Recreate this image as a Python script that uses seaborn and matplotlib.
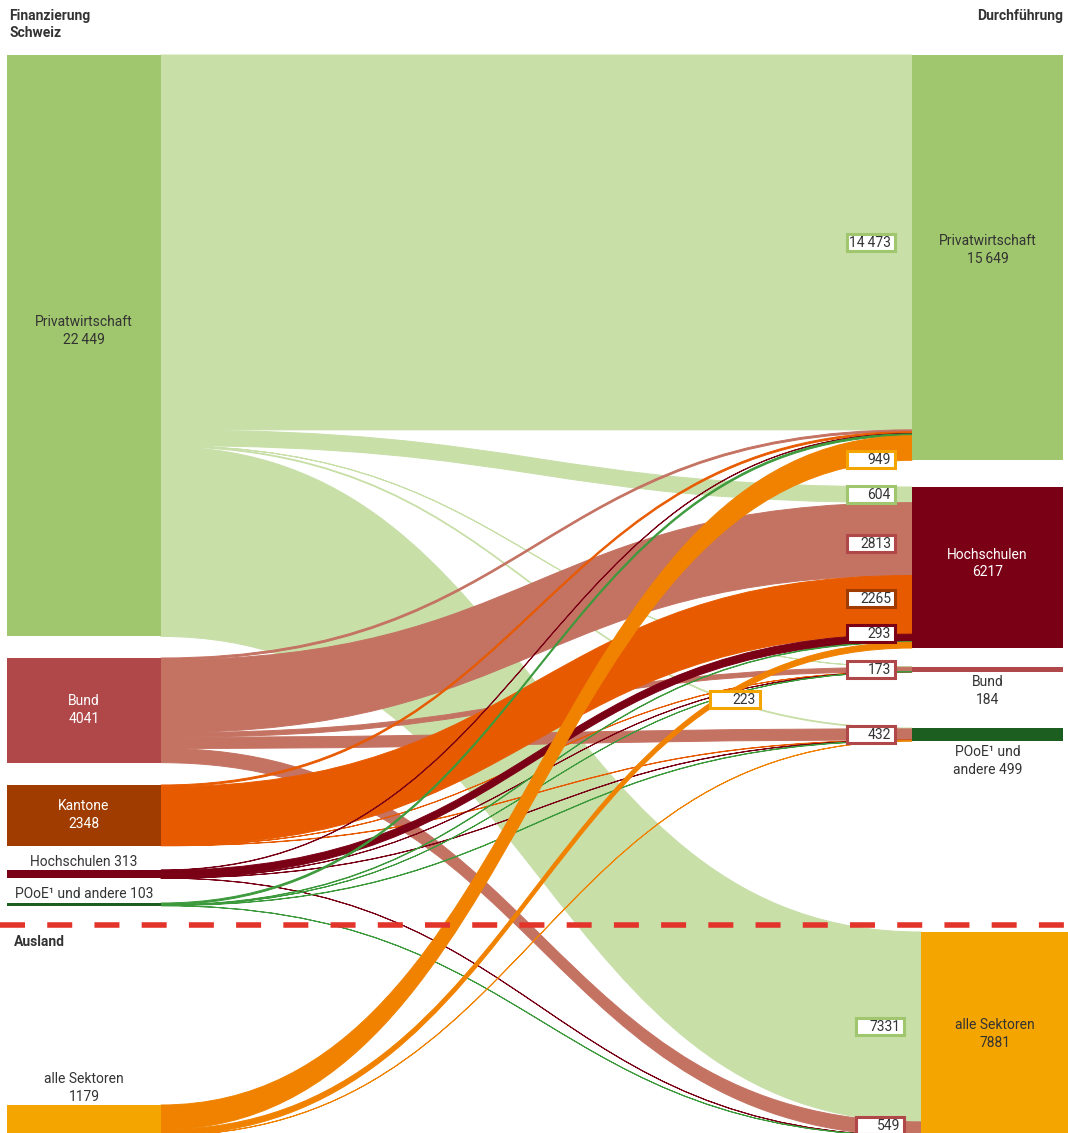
import matplotlib
matplotlib.use("Agg")
import matplotlib.pyplot as plt
from matplotlib.path import Path
from matplotlib.patches import PathPatch, Rectangle
import seaborn as sns

# Finanzierung (links) -> Durchführung (rechts), Mio. CHF
sources = ["Privatwirtschaft", "Bund", "Kantone", "Hochschulen", "POoE¹ und andere", "alle Sektoren"]
source_totals = [22449, 4041, 2348, 313, 103, 1179]
targets = ["Privatwirtschaft", "Hochschulen", "Bund", "POoE¹ und andere", "alle Sektoren"]
target_totals = [15649, 6217, 184, 499, 7881]

# Flüsse je Quelle, Reihenfolge wie targets
flows_privatwirtschaft = [14473, 604, 8, 33, 7331]
flows_bund = [74, 2813, 173, 432, 549]
flows_kantone = [70, 2265, 1, 12, 0]
flows_hochschulen = [13, 293, 1, 5, 1]
flows_pooe = [70, 19, 1, 12, 1]
flows_ausland = [949, 223, 0, 5, 2]
flows = [flows_privatwirtschaft, flows_bund, flows_kantone, flows_hochschulen, flows_pooe, flows_ausland]

# beschriftete Flüsse (Quelle, Ziel)
labelled = [(0, 0), (0, 1), (0, 4), (1, 1), (1, 2), (1, 3), (1, 4), (2, 1), (3, 1), (5, 0), (5, 1)]

# Layout (Pixel)
W, H = 1068, 1133
S = 0.0259  # px pro Mio. CHF
left_tops = [55, 658, 785, 870, 903, 1105]
right_tops = [55, 487, 667, 728, 932]
lx0, lx1 = 7, 161
rx0 = [912, 912, 912, 912, 921]
rx1 = [1063, 1063, 1063, 1063, 1068]
label_dy = {(5, 0): 11, (1, 1): 4, (2, 1): -6, (3, 1): -4, (1, 4): -3}

src_node_col = ["#a1c76e", "#b0484a", "#a03c00", "#7a0016", "#1b5e20", "#f5a500"]
src_flow_col = ["#c8dfa8", "#c47262", "#e85a00", "#7a0016", "#3c9a3c", "#f08200"]
tgt_node_col = ["#a1c76e", "#7a0016", "#b0484a", "#1b5e20", "#f5a500"]
txt = "#333333"

sns.set_theme(style="white")
plt.rcParams["font.family"] = ["Roboto", "DejaVu Sans"]

fig = plt.figure(figsize=(W / 100, H / 100), dpi=100)
ax = fig.add_axes([0, 0, 1, 1])
ax.set_xlim(0, W)
ax.set_ylim(H, 0)
ax.axis("off")


def fmt(v):
    s = str(v)
    if v >= 10000:
        s = s[:-3] + "\u2009" + s[-3:]
    return s


def band(x0, y0a, y0b, x1, y1a, y1b):
    xm = (x0 + x1) / 2
    verts = [(x0, y0a), (xm, y0a), (xm, y1a), (x1, y1a),
             (x1, y1b), (xm, y1b), (xm, y0b), (x0, y0b), (x0, y0a)]
    codes = [Path.MOVETO, Path.CURVE4, Path.CURVE4, Path.CURVE4,
             Path.LINETO, Path.CURVE4, Path.CURVE4, Path.CURVE4, Path.CLOSEPOLY]
    return Path(verts, codes)


def bez_y(x0, y0, x1, y1, x):
    # y auf der Bezierkurve an Stelle x
    lo, hi = 0.0, 1.0
    for _ in range(40):
        t = (lo + hi) / 2
        if x0 + (x1 - x0) * (1.5 * t - 1.5 * t * t + t ** 3) < x:
            lo = t
        else:
            hi = t
    return y0 + (y1 - y0) * (3 * t * t - 2 * t ** 3)


# Stapelpositionen berechnen
src_off = [0.0] * len(sources)
tgt_off = [0.0] * len(targets)
segs = {}
for i in range(len(sources)):
    for j in range(len(targets)):
        v = flows[i][j]
        if v == 0:
            continue
        ya = left_tops[i] + src_off[i] * S
        yb = ya + v * S
        src_off[i] += v
        segs[(i, j)] = [ya, yb]
for j in range(len(targets)):
    for i in range(len(sources)):
        v = flows[i][j]
        if v == 0:
            continue
        ya = right_tops[j] + tgt_off[j] * S
        segs[(i, j)] += [ya, ya + v * S]
        tgt_off[j] += v

# Flüsse
for i in range(len(sources)):
    for j in range(len(targets)):
        if (i, j) not in segs:
            continue
        y0a, y0b, y1a, y1b = segs[(i, j)]
        p = band(lx1, y0a, y0b, rx0[j], y1a, y1b)
        ax.add_patch(PathPatch(p, facecolor=src_flow_col[i], edgecolor=src_flow_col[i],
                               lw=0.7, zorder=2 + i * 0.1))

# Knoten
for i, v in enumerate(source_totals):
    ax.add_patch(Rectangle((lx0, left_tops[i]), lx1 - lx0, max(v * S, 2.5),
                           facecolor=src_node_col[i], lw=0, zorder=4))
for j, v in enumerate(target_totals):
    ax.add_patch(Rectangle((rx0[j], right_tops[j]), rx1[j] - rx0[j], max(v * S, 2.5),
                           facecolor=tgt_node_col[j], lw=0, zorder=4))

# Knotenbeschriftungen links
lc = (lx0 + lx1) / 2
fs = 10
fw = "normal"
for i in range(3):
    cy = left_tops[i] + source_totals[i] * S / 2
    dy = -15 if i == 0 else 0
    col = txt if i == 0 else "white"
    ax.text(lc, cy + dy, f"{sources[i]}\n{fmt(source_totals[i])}", ha="center", va="center",
            fontsize=fs, fontweight=fw, color=col, linespacing=1.35, zorder=5)
ax.text(lc, left_tops[3] - 8, f"{sources[3]} {fmt(source_totals[3])}", ha="center", va="center",
        fontsize=fs, fontweight=fw, color=txt, zorder=5)
ax.text(15, left_tops[4] - 9, f"{sources[4]} {fmt(source_totals[4])}", ha="left", va="center",
        fontsize=fs, fontweight=fw, color=txt, zorder=5)
ax.text(lc, left_tops[5] - 17, f"{sources[5]}\n{fmt(source_totals[5])}", ha="center", va="center",
        fontsize=fs, fontweight=fw, color=txt, linespacing=1.35, zorder=5)

# Knotenbeschriftungen rechts
for j in (0, 1, 4):
    rc = (rx0[j] + rx1[j]) / 2
    cy = right_tops[j] + target_totals[j] * S / 2
    dy = {0: -8, 1: -4, 4: 0}[j]
    col = "white" if j == 1 else txt
    ax.text(rc, cy + dy, f"{targets[j]}\n{fmt(target_totals[j])}", ha="center", va="center",
            fontsize=fs, fontweight=fw, color=col, linespacing=1.35, zorder=5)
rc = (rx0[2] + rx1[2]) / 2
ax.text(rc, right_tops[2] + target_totals[2] * S + 19, f"{targets[2]}\n{fmt(target_totals[2])}",
        ha="center", va="center", fontsize=fs, fontweight=fw, color=txt, linespacing=1.35, zorder=5)
ax.text(rc, right_tops[3] + target_totals[3] * S + 20, f"POoE¹ und\nandere {fmt(target_totals[3])}",
        ha="center", va="center", fontsize=fs, fontweight=fw, color=txt, linespacing=1.35, zorder=5)

# Flusswerte
bw, bh = 48, 17
for (i, j) in labelled:
    y0a, y0b, y1a, y1b = segs[(i, j)]
    v = flows[i][j]
    if (i, j) == (5, 1):
        xr = 760
        cy = bez_y(lx1, (y0a + y0b) / 2, rx0[j], (y1a + y1b) / 2, xr - bw / 2) + 10
        bwx = 50
    else:
        xr = rx0[j] - 17
        cy = (y1a + y1b) / 2 + label_dy.get((i, j), 0)
        bwx = bw
    ax.add_patch(Rectangle((xr - bwx, cy - bh / 2), bwx, bh, facecolor="white",
                           edgecolor=src_node_col[i], lw=2.2, zorder=6))
    ax.text(xr - 4, cy + 0.5, fmt(v), ha="right", va="center", fontsize=fs,
            fontweight=fw, color=txt, zorder=7)

# Trennlinie Schweiz / Ausland
ax.plot([0, W], [925, 925], color="#e2342a", lw=4, ls=(0, (4.5, 4)), zorder=8,
        solid_capstyle="butt", dash_capstyle="butt")

ax.text(9, 9, "Finanzierung\nSchweiz", ha="left", va="top", fontsize=fs,
        fontweight="bold", color=txt, linespacing=1.3)
ax.text(1063, 9, "Durchführung", ha="right", va="top", fontsize=fs,
        fontweight="bold", color=txt)
ax.text(14, 942, "Ausland", ha="left", va="center", fontsize=fs,
        fontweight="bold", color=txt)

fig.savefig("out.png", dpi=100)
